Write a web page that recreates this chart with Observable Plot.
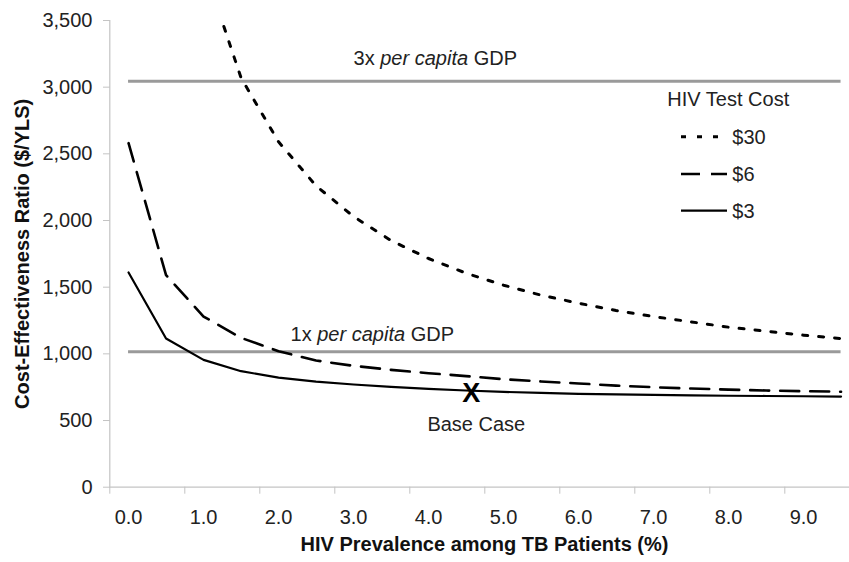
<!DOCTYPE html>
<html><head><meta charset="utf-8">
<script src="https://cdn.jsdelivr.net/npm/d3@7"></script>
<script src="https://cdn.jsdelivr.net/npm/@observablehq/plot@0.6"></script>
<style>
body{margin:0;background:#fff;font-family:"Liberation Sans",Arial,sans-serif;}
#wrap{position:relative;width:849px;height:562px;}
#legend{position:absolute;left:0;top:0;pointer-events:none;}
</style></head><body><div id="wrap"></div>
<script>
// HIV prevalence among TB patients (%)
const prevalence = [0,0.5,1,1.5,2,2.5,3,3.5,4,4.5,5,5.5,6,6.5,7,7.5,8,8.5,9,9.5];
// Cost-effectiveness ratio ($/YLS) by HIV test cost
const cost3  = [1610,1115,955,870,822,792,770,752,738,725,715,707,700,696,692,689,686,684,682,680];
const cost6  = [2580,1590,1280,1120,1020,950,910,880,855,833,810,793,778,762,750,740,732,725,720,716];
const cost30 = [null,null,3910,3070,2590,2260,2030,1850,1715,1605,1515,1440,1380,1325,1280,1240,1200,1170,1140,1115];
const seriesNames = ["$30","$6","$3"];
const perCapitaGDP = 1015;
const gdpLines = [{k:"1x", v:perCapitaGDP, x:2.16, dy:-17}, {k:"3x", v:3*perCapitaGDP, x:3.0, dy:-23}];
const baseCase = {x:4.57, y:705};
const yTicks = [0,500,1000,1500,2000,2500,3000,3500];
const xLabels = [0,1,2,3,4,5,6,7,8,9];
const xTickMarks = xLabels.map(d => d - 0.25);

const dashes = {"$30":"5,11", "$6":"19,11", "$3":null};
const widths = {"$30":3, "$6":2.6, "$3":2.2};

const rows = [];
const seriesVals = {"$30":cost30, "$6":cost6, "$3":cost3};
for (const s of seriesNames) prevalence.forEach((p,i) => { if (seriesVals[s][i] != null) rows.push({p, v:seriesVals[s][i], s}); });

const lineMarks = seriesNames.map(s => Plot.line(rows.filter(r => r.s === s), {
  x:"p", y:"v", stroke:"#000", strokeWidth:widths[s], strokeDasharray:dashes[s], clip:true, strokeLinejoin:"round"
}));

const gdpLabels = gdpLines.map(g => Plot.text([g], {x:"x", y:"v", dy:g.dy, text:d => d.k + " per capita GDP", textAnchor:"start", lineAnchor:"middle", fontSize:20, fill:"#222"}));

const chart = Plot.plot({
  width:849, height:562,
  marginLeft:110, marginRight:0, marginTop:20, marginBottom:75.3,
  style:{fontFamily:"Liberation Sans, Arial, sans-serif", fontSize:"20px", background:"#fff"},
  x:{domain:[-0.25, 9.75], range:[109.3, 859.3]},
  y:{domain:[0,3500], range:[486.7, 20]},
  marks:[
    Plot.ruleX([-0.25], {y1:0, y2:3500, stroke:"#c4c4c4", strokeWidth:1.2}),
    Plot.ruleY([0], {x1:-0.25, x2:9.75, stroke:"#c4c4c4", strokeWidth:1.2}),
    Plot.axisY({ticks:yTicks, tickFormat:d3.format(","), tickSize:7, tickPadding:11, stroke:"#c4c4c4", fill:"#222", fontSize:20, label:null}),
    Plot.axisX({ticks:xTickMarks, tickSize:7, tickFormat:() => "", stroke:"#c4c4c4", label:null}),
    Plot.axisX({ticks:xLabels, tickSize:0, tickPadding:23, tickFormat:d => d.toFixed(1), fill:"#222", fontSize:20, label:null}),
    Plot.ruleY(gdpLines, {y:"v", x1:0, x2:9.5, stroke:"#9a9a9a", strokeWidth:3}),
    ...gdpLabels,
    ...lineMarks,
    Plot.text([baseCase], {x:"x", y:"y", text:() => "X", fontWeight:"bold", fontSize:27, fill:"#000", lineAnchor:"middle"}),
    Plot.text([baseCase], {x:"x", y:"y", dx:5, dy:31, text:() => "Base Case", fontSize:20, fill:"#222", lineAnchor:"middle"}),
    Plot.text(["HIV Prevalence among TB Patients (%)"], {frameAnchor:"bottom", dx:4.5, dy:57, textAnchor:"middle", fontWeight:"bold", fontSize:20, fill:"#111", lineAnchor:"middle"}),
    Plot.text(["Cost-Effectiveness Ratio ($/YLS)"], {frameAnchor:"left", dx:-88, rotate:-90, textAnchor:"middle", fontWeight:"bold", fontSize:20, fill:"#111", lineAnchor:"middle"})
  ]
});

// italicise "per capita"
d3.select(chart).selectAll("text").each(function(){
  const t = this.textContent;
  if (t.includes("per capita") && this.childElementCount === 0) {
    const [a, b] = t.split("per capita");
    const sel = d3.select(this); sel.text(null);
    sel.append("tspan").text(a);
    sel.append("tspan").attr("font-style","italic").text("per capita");
    sel.append("tspan").text(b);
  }
});

const wrap = document.getElementById("wrap");
wrap.appendChild(chart);

// legend overlay
const lg = d3.select(wrap).append("svg").attr("id","legend").attr("width",849).attr("height",562)
  .style("font-family","Liberation Sans, Arial, sans-serif").style("font-size","20px");
lg.append("text").attr("x",667.3).attr("y",99.3).attr("dy","0.35em").attr("fill","#222").text("HIV Test Cost");
const legendY = [136.7, 174, 210.7];
seriesNames.forEach((s,i) => {
  lg.append("line").attr("x1",681).attr("x2",727).attr("y1",legendY[i]).attr("y2",legendY[i])
    .attr("stroke","#000").attr("stroke-width",widths[s]).attr("stroke-dasharray",dashes[s]);
  lg.append("text").attr("x",732.3).attr("y",legendY[i]).attr("dy","0.35em").attr("fill","#222").text(s);
});
</script></body></html>
